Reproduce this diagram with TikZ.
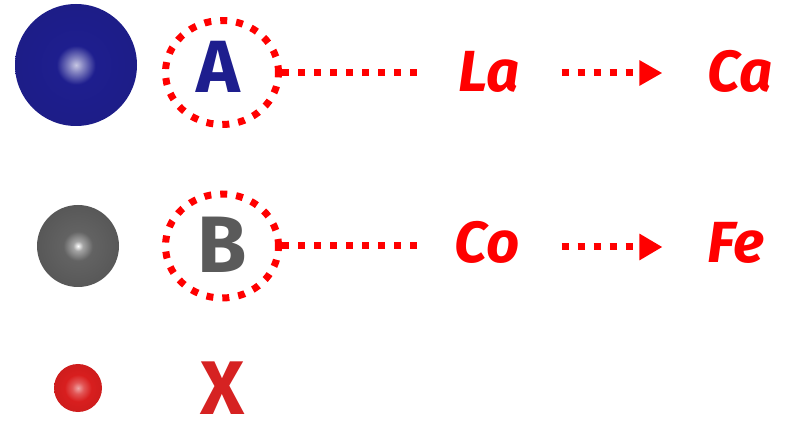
\documentclass[tikz,border=0pt]{standalone}
\usepackage{fontspec}
\setmainfont{Fira Sans}
\usetikzlibrary{arrows.meta,shapes.geometric}

\definecolor{sphA}{HTML}{1E1E8E}
\definecolor{sphB}{HTML}{5A5A5A}
\definecolor{sphX}{HTML}{D81E1E}
\definecolor{markred}{HTML}{FF0000}
\definecolor{xred}{HTML}{D62222}

% radial shadings for the three atoms: small bright spot in the middle, darker rim
\pgfdeclareradialshading{sphereA}{\pgfpointorigin}{%
  color(0bp)=(sphA!25!white); color(3bp)=(sphA!55!white); color(8bp)=(sphA);
  color(38bp)=(sphA!92!black); color(50bp)=(sphA!70!black); color(100bp)=(sphA!70!black)}
\pgfdeclareradialshading{sphereB}{\pgfpointorigin}{%
  color(0bp)=(white); color(3bp)=(sphB!55!white); color(9bp)=(sphB!95!white);
  color(38bp)=(sphB!88!black); color(50bp)=(sphB!60!black); color(100bp)=(sphB!60!black)}
\pgfdeclareradialshading{sphereX}{\pgfpointorigin}{%
  color(0bp)=(sphX!40!white); color(6bp)=(sphX!75!white); color(14bp)=(sphX);
  color(38bp)=(sphX!90!black); color(50bp)=(sphX!60!black); color(100bp)=(sphX!60!black)}

\tikzset{
  atom/.style={circle, inner sep=0pt, shade, shading=#1},
  site/.style={ellipse, draw=markred, line width=7pt, dash pattern=on 7pt off 9pt,
               minimum width=113pt, minimum height=104pt, inner sep=0pt},
  dotline/.style={draw=markred, line width=7pt, dash pattern=on 7pt off 9pt},
  elem/.style={anchor=base, inner sep=0pt, text=markred,
               font=\fontsize{58}{60}\selectfont\bfseries\itshape},
  siteletter/.style={anchor=base, inner sep=0pt, font=\fontsize{74}{76}\selectfont\bfseries}
}

\begin{document}
\begin{tikzpicture}[x=1pt, y=-1pt]
  \useasboundingbox[fill=white] (0,0) rectangle (788,422);

  % atoms
  \node[atom=sphereA, minimum size=122pt] (ballA) at (76,65) {};
  \node[atom=sphereB, minimum size=82pt]  (ballB) at (78,246) {};
  \node[atom=sphereX, minimum size=48pt]  (ballX) at (78,388) {};

  % site rings and their letters
  \node[site] (ringA) at (222,72.5) {};
  \node[site] (ringB) at (222,246) {};
  \node[siteletter, text=sphA] (letA) at (218,93) {A};
  \node[siteletter, text=sphB, font=\fontsize{80}{82}\selectfont\bfseries] (letB) at (222,273) {B};
  \node[anchor=base, inner sep=0pt, text=xred, font=\fontsize{76}{78}\selectfont\bfseries] (letX) at (223,414) {X};

  % elements
  \node[elem] (La) at (489,92) {La};
  \node[elem] (Ca) at (740,92) {Ca};
  \node[elem] (Co) at (487,263) {Co};
  \node[elem] (Fe) at (736,263) {Fe};

  % dotted links
  \draw[dotline, shorten >=41pt] (ringA.east) -- (ringA.east -| La.west);
  \draw[dotline, shorten >=37pt] (ringB.east) -- (ringB.east -| Co.west);
  \draw[dotline, -{Triangle[length=23pt, width=24pt]}, shorten <=42pt, shorten >=45pt]
    ([yshift=19pt]La.base east) -- ([yshift=19pt]Ca.base west);
  \draw[dotline, -{Triangle[length=23pt, width=25pt]}, shorten <=42pt, shorten >=45pt]
    ([yshift=16pt]Co.base east) -- ([yshift=16pt]Fe.base west);
\end{tikzpicture}
\end{document}
